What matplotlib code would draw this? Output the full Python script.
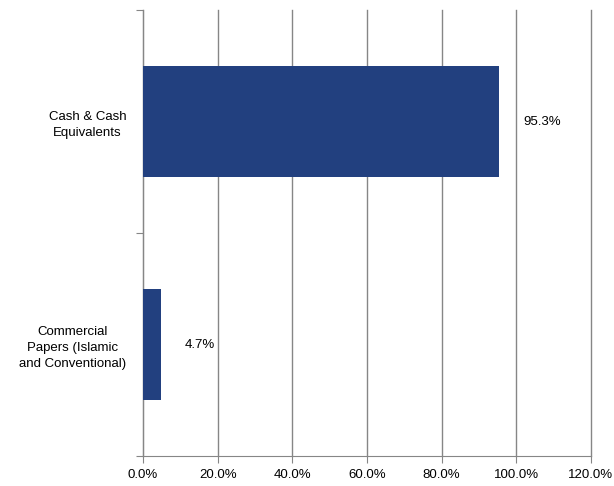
import matplotlib.pyplot as plt
from matplotlib.ticker import MultipleLocator, FuncFormatter

plt.rcParams['font.family'] = ['Liberation Sans', 'DejaVu Sans']

categories = ['Cash & Cash\nEquivalents', 'Commercial\nPapers (Islamic\nand Conventional)']
values = [95.3, 4.7]
bar_color = '#22407F'
grid_color = '#868686'

fig = plt.figure(figsize=(6.14, 4.86), dpi=100)
ax = fig.add_axes([0.2329, 0.0617, 0.7296, 0.9177])

pos = list(range(len(categories)))
ax.barh(pos, values, height=0.5, color=bar_color, zorder=3)
for p, v in zip(pos, values):
    ax.text(v + 6.5, p, '%.1f%%' % v, va='center', ha='left', fontsize=9.5)

ax.set_ylim(1.5, -0.5)
ax.set_yticks([-0.5, 0.5, 1.5])
ax.set_yticklabels([])
ax.set_yticks(pos, minor=True)
ax.set_yticklabels(categories, minor=True, fontsize=9.5, multialignment='center',
                   linespacing=1.45)
ax.tick_params(axis='y', which='minor', length=0, pad=12)
ax.tick_params(axis='y', which='major', length=5, color=grid_color)

ax.set_xlim(0, 120)
ax.xaxis.set_major_locator(MultipleLocator(20))
ax.xaxis.set_major_formatter(FuncFormatter(lambda x, _: '%.1f%%' % x))
ax.tick_params(axis='x', length=5, color=grid_color, labelsize=9.5, pad=4)
ax.grid(axis='x', color=grid_color, linewidth=1, zorder=0)
for gl in ax.get_xgridlines():
    gl.set_clip_on(False)

for s in ['top', 'right']:
    ax.spines[s].set_visible(False)
for s in ['left', 'bottom']:
    ax.spines[s].set_color(grid_color)

fig.savefig('out.png', dpi=100)
